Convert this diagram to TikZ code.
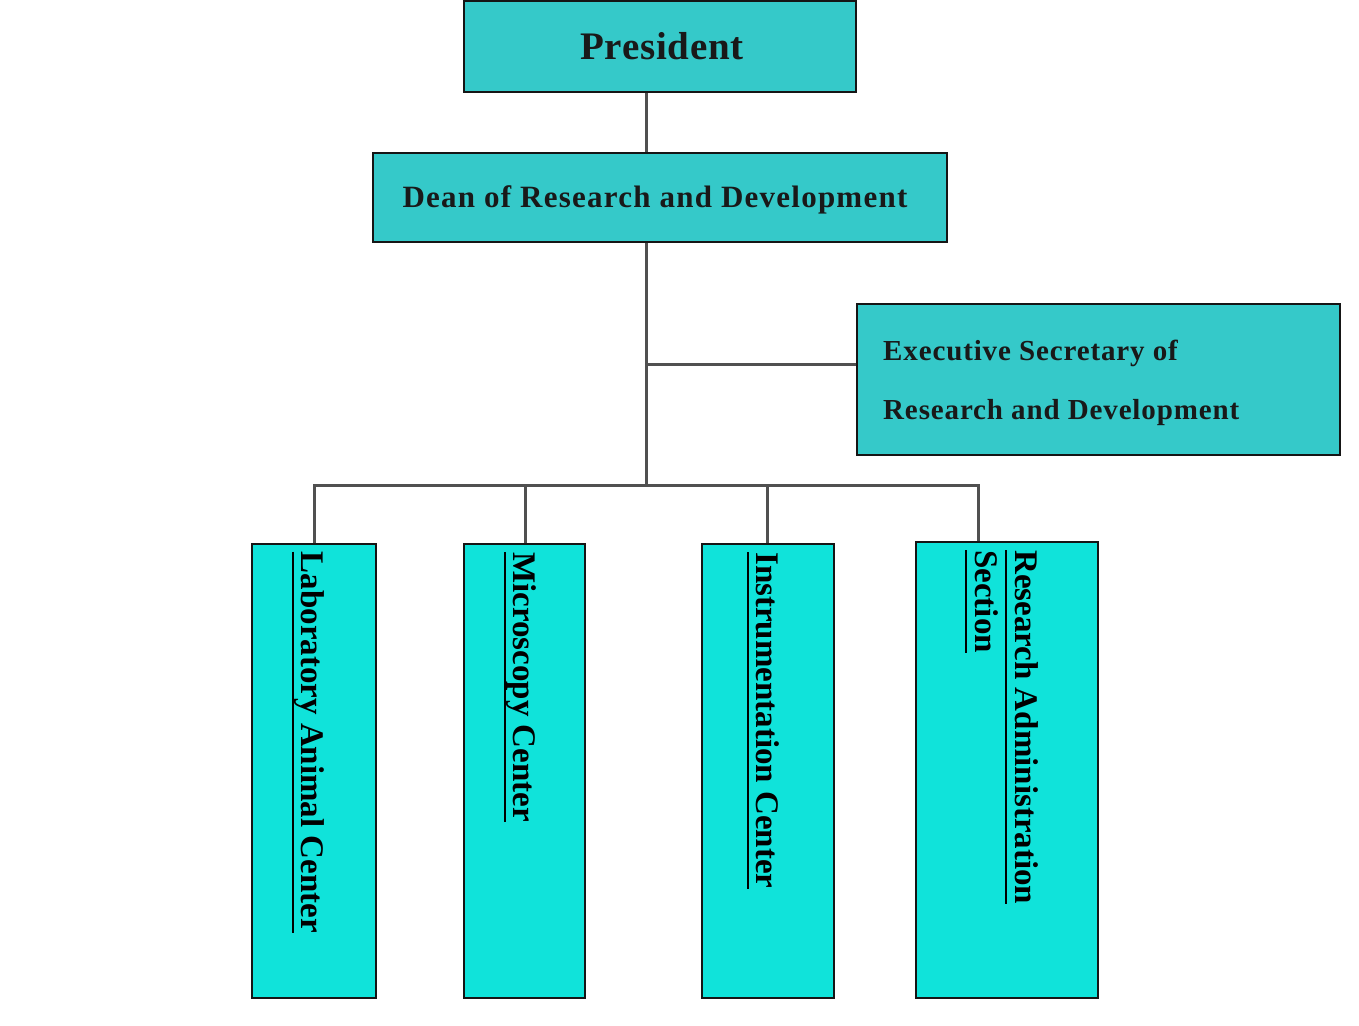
\documentclass[tikz,border=0pt]{standalone}
\usepackage{fontspec}
\setmainfont{Liberation Serif}
\definecolor{topfill}{HTML}{35C9C9}
\definecolor{botfill}{HTML}{10E3DA}
\definecolor{conncol}{HTML}{505050}
\definecolor{edgecol}{HTML}{151515}
\newcommand\ulx[1]{\setbox0=\hbox{#1}\rlap{\rule[-9.7pt]{\wd0}{2pt}}\box0}
\tikzset{
  topbox/.style={draw=edgecol, line width=2pt, fill=topfill, inner sep=0pt},
  botbox/.style={draw=edgecol, line width=2pt, fill=botfill, inner sep=0pt},
  conn/.style={draw=conncol, line width=3pt},
  toplabel/.style={inner sep=0pt, text=black!90},
  botlabel/.style={inner sep=0pt, rotate=-90, anchor=base west, font=\fontsize{33}{33}\selectfont\bfseries},
}
\begin{document}
\begin{tikzpicture}[x=1pt,y=-1pt]
\useasboundingbox[fill=white] (0,0) rectangle (1359,1025);
% boxes
\node[topbox, minimum width=392pt, minimum height=91pt] (pres) at (660,46.5) {};
\node[topbox, minimum width=574pt, minimum height=89pt] (dean) at (660,197.5) {};
\node[topbox, minimum width=483pt, minimum height=151pt] (exec) at (1098.5,379.5) {};
\node[botbox, minimum width=124pt, minimum height=454pt] (lab) at (314,771) {};
\node[botbox, minimum width=121pt, minimum height=454pt] (micro) at (524.5,771) {};
\node[botbox, minimum width=132pt, minimum height=454pt] (instr) at (768,771) {};
\node[botbox, minimum width=182pt, minimum height=456pt] (ras) at (1007,770) {};
% top labels
\node[toplabel, anchor=base, font=\fontsize{39}{39}\selectfont\bfseries\addfontfeature{LetterSpace=2}] (prest) at (662,59.5) {President};
\node[toplabel, anchor=base, font=\fontsize{31}{31}\selectfont\bfseries\addfontfeature{LetterSpace=4}] (deant) at (655,207.5) {Dean of Research and Development};
\node[toplabel, anchor=base west, font=\fontsize{29}{29}\selectfont\bfseries\addfontfeature{LetterSpace=3}] (exect1) at (883,360.5) {Executive Secretary of};
\node[toplabel, anchor=base west, font=\fontsize{29}{29}\selectfont\bfseries\addfontfeature{LetterSpace=3}] (exect2) at (883,419.5) {Research and Development};
% bottom labels
\node[botlabel] (labt) at (301.7,551.5) {\ulx{Laboratory Animal Center}};
\node[botlabel] (microt) at (513.3,552) {\ulx{Microscopy Center}};
\node[botlabel] (instrt) at (756.7,552) {\ulx{Instrumentation Center}};
\node[botlabel] (rast1) at (1015,550) {\ulx{Research Administration}};
\node[botlabel] (rast2) at (975,550) {\ulx{Section}};
% connectors
\coordinate (j1) at (646,364);
\coordinate (j2) at (646,485);
\coordinate (d1) at (314,485);
\coordinate (d2) at (525,485);
\coordinate (d3) at (767,485);
\coordinate (d4) at (978,485);
\draw[conn] (pres.south -| j1) -- (dean.north -| j1);
\draw[conn] (dean.south -| j1) -- (j2);
\draw[conn] (j1) -- (exec.west |- j1);
\draw[conn, line cap=rect] (d1) -- (d4);
\draw[conn] (d1) -- (d1 |- lab.north);
\draw[conn] (d2) -- (d2 |- micro.north);
\draw[conn] (d3) -- (d3 |- instr.north);
\draw[conn] (d4) -- (d4 |- ras.north);
\end{tikzpicture}
\end{document}
